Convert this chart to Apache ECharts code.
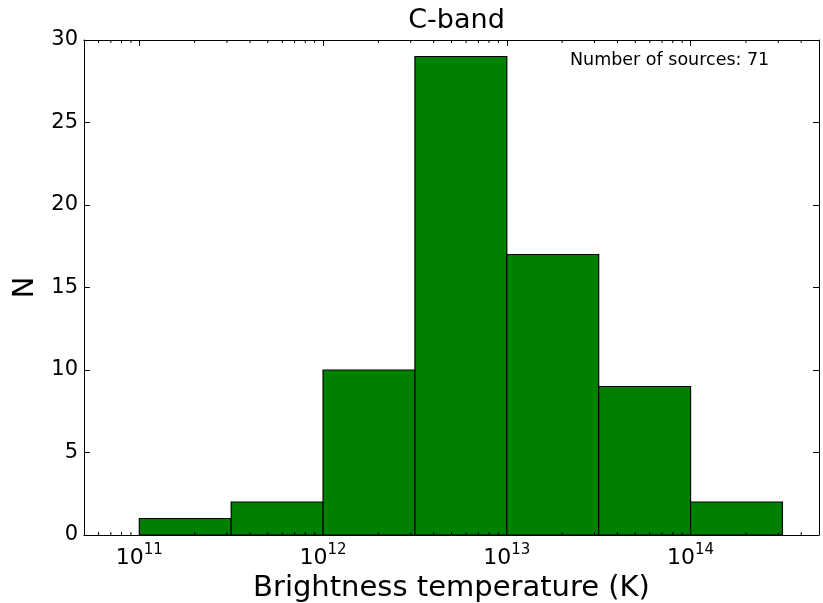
<!DOCTYPE html>
<html>
<head>
<meta charset="utf-8">
<script src="https://cdn.jsdelivr.net/npm/echarts@6/dist/echarts.min.js"></script>
<style>
html,body{margin:0;padding:0;background:#fff;}
#chart{width:823px;height:603px;}
</style>
</head>
<body>
<div id="chart"></div>
<script>
// Histogram bin edges (K) and counts
const binEdges = [1e11, 3.1623e11, 1e12, 3.1623e12, 1e13, 3.1623e13, 1e14, 3.1623e14];
const counts = [1, 2, 10, 29, 17, 9, 2];
const xRange = [5e10, 5e14];
const yTicks = [0, 5, 10, 15, 20, 25, 30];
const minorMultipliers = [2, 3, 4, 5, 6, 7, 8, 9];
const minorDecades = [10, 11, 12, 13, 14];
const titleText = 'C-band';
const xName = 'Brightness temperature (K)';
const yName = 'N';
const noteText = 'Number of sources: 71';

const FONT = 'DejaVu Sans';

const barData = counts.map((c, i) => [binEdges[i], binEdges[i + 1], c]);
const minorTicks = [];
minorDecades.forEach(d => minorMultipliers.forEach(m => {
  const v = m * Math.pow(10, d);
  if (v > xRange[0] && v < xRange[1]) minorTicks.push([v]);
}));

const chart = echarts.init(document.getElementById('chart'), null, {renderer: 'canvas'});

const axisLineStyle = {color: '#000', width: 1};

const option = {
  animation: false,
  backgroundColor: '#fff',
  textStyle: {fontFamily: FONT},
  title: {
    text: titleText,
    left: 451.5,
    textAlign: 'center',
    top: 2,
    textStyle: {fontFamily: FONT, fontSize: 27, fontWeight: 'normal', color: '#000'}
  },
  grid: {left: 84, right: 4, top: 40, bottom: 68, containLabel: false, outerBoundsMode: 'none'},
  xAxis: [{
    type: 'log',
    logBase: 10,
    min: xRange[0],
    max: xRange[1],
    position: 'bottom',
    name: xName,
    nameLocation: 'middle',
    nameGap: 36,
    nameTextStyle: {fontFamily: FONT, fontSize: 29, color: '#000'},
    axisLine: {show: true, onZero: false, lineStyle: axisLineStyle},
    axisTick: {show: true, inside: true, length: 6, lineStyle: axisLineStyle},
    splitLine: {show: false},
    axisLabel: {
      margin: 8,
      showMinLabel: false,
      showMaxLabel: false,
      formatter: function (v) {
        const e = Math.log10(v);
        const r = Math.round(e);
        if (Math.abs(e - r) < 1e-6) return '{b|10}{s|' + r + '}';
        return '';
      },
      rich: {
        b: {fontFamily: FONT, fontSize: 22, color: '#000', verticalAlign: 'bottom'},
        s: {fontFamily: FONT, fontSize: 15, color: '#000', verticalAlign: 'bottom', padding: [0, 0, 11, 0]}
      }
    }
  }, {
    type: 'log',
    logBase: 10,
    min: xRange[0],
    max: xRange[1],
    position: 'top',
    axisLine: {show: true, onZero: false, lineStyle: axisLineStyle},
    axisTick: {show: true, inside: true, length: 6, lineStyle: axisLineStyle},
    axisLabel: {show: false},
    splitLine: {show: false}
  }],
  yAxis: [{
    type: 'value',
    min: 0,
    max: 30,
    interval: 5,
    position: 'left',
    name: yName,
    nameLocation: 'middle',
    nameGap: 39,
    nameRotate: 90,
    nameTextStyle: {fontFamily: FONT, fontSize: 29, color: '#000'},
    axisLine: {show: true, onZero: false, lineStyle: axisLineStyle},
    axisTick: {show: true, inside: true, length: 6, lineStyle: axisLineStyle},
    splitLine: {show: false},
    axisLabel: {
      margin: 6,
      fontFamily: FONT, fontSize: 21, color: '#000',
      formatter: function (v) { return yTicks.indexOf(v) >= 0 ? String(v) : ''; }
    }
  }, {
    type: 'value',
    min: 0,
    max: 30,
    interval: 5,
    position: 'right',
    axisLine: {show: true, onZero: false, lineStyle: axisLineStyle},
    axisTick: {show: true, inside: true, length: 6, lineStyle: axisLineStyle},
    axisLabel: {show: false},
    splitLine: {show: false}
  }],
  graphic: [{
    type: 'text',
    left: 570,
    top: 51,
    style: {text: noteText, font: '17.5px "DejaVu Sans"', fill: '#000'}
  }],
  series: [{
    type: 'custom',
    name: 'hist',
    xAxisIndex: 0,
    yAxisIndex: 0,
    data: barData,
    encode: {x: [0, 1], y: 2},
    renderItem: function (params, api) {
      const p0 = api.coord([api.value(0), 0]);
      const p1 = api.coord([api.value(1), api.value(2)]);
      return {
        type: 'rect',
        shape: {x: p0[0], y: p1[1], width: p1[0] - p0[0], height: p0[1] - p1[1]},
        style: {fill: '#008000', stroke: '#000', lineWidth: 1.2}
      };
    }
  }, {
    type: 'custom',
    name: 'minorTicks',
    xAxisIndex: 0,
    yAxisIndex: 0,
    silent: true,
    z: 5,
    data: minorTicks,
    encode: {x: 0},
    renderItem: function (params, api) {
      const pb = api.coord([api.value(0), 0]);
      const pt = api.coord([api.value(0), 30]);
      return {
        type: 'group',
        children: [{
          type: 'line',
          shape: {x1: pb[0], y1: pb[1], x2: pb[0], y2: pb[1] - 3},
          style: {stroke: '#000', lineWidth: 1}
        }, {
          type: 'line',
          shape: {x1: pt[0], y1: pt[1], x2: pt[0], y2: pt[1] + 3},
          style: {stroke: '#000', lineWidth: 1}
        }]
      };
    }
  }]
};

chart.setOption(option);
</script>
</body>
</html>
